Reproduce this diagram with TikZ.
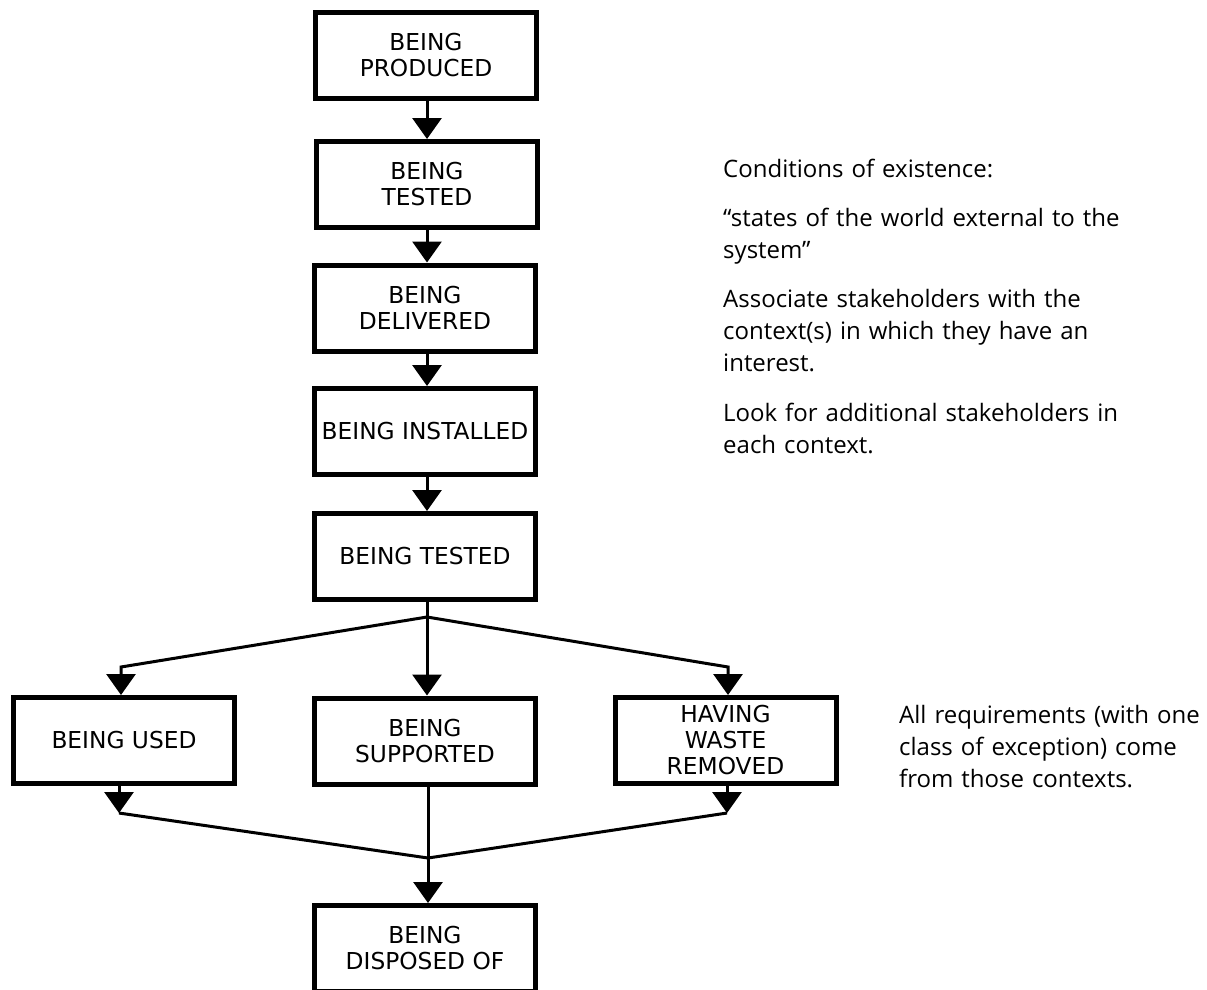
\documentclass[tikz,border=0pt]{standalone}
\usepackage{fontspec}
\setmainfont{Open Sans}
\newfontfamily\boxfont{DejaVu Sans}
\usetikzlibrary{arrows.meta}
\begin{document}
\begin{tikzpicture}[x=1pt,y=-1pt,
  stbox/.style={draw, line width=5pt, minimum width=221pt, minimum height=86pt,
    inner sep=0pt, align=center, font=\boxfont\fontsize{23.3}{26}\selectfont},
  conn/.style={line width=3pt},
  arr/.style={conn, -{Triangle[width=29pt,length=21pt]}},
  note/.style={anchor=base west, align=left, inner sep=0pt, text width=480pt,
    font=\fontsize{24}{32}\selectfont}]
\useasboundingbox (0,0) rectangle (1207,989);

% state boxes
\node[stbox] (p)  at (426,55.5)  {BEING\\PRODUCED};
\node[stbox] (t1) at (427,184.5) {BEING\\TESTED};
\node[stbox] (d)  at (425,308)   {BEING\\DELIVERED};
\node[stbox] (i)  at (425,431.5) {BEING INSTALLED};
\node[stbox] (t2) at (425,556.5) {BEING TESTED};
\node[stbox] (u)  at (124,740.5) {BEING USED};
\node[stbox] (s)  at (425,741)   {BEING\\SUPPORTED};
\node[stbox] (w)  at (725.5,740.5) {HAVING\\WASTE\\REMOVED};
\node[stbox] (x)  at (425,948.5) {BEING\\DISPOSED OF};

% helper coordinates
\coordinate (col) at (427,0);
\coordinate (j1) at (427,617);
\coordinate (lt) at (121,667);
\coordinate (rt) at (728,667);
\coordinate (lb) at (119,813);
\coordinate (rb) at (727,813);
\coordinate (j2) at (428,858);

% main column
\draw[arr] (p.south -| col) -- (t1.north -| col);
\draw[arr] (t1.south -| col) -- (d.north -| col);
\draw[arr] (d.south -| col) -- (i.north -| col);
\draw[arr] (i.south -| col) -- (t2.north -| col);

% branching
\draw[conn] (t2.south -| col) -- (j1);
\draw[arr] (j1) -- (lt) -- (lt |- u.north);
\draw[arr] (j1) -- (s.north -| col);
\draw[arr] (j1) -- (rt) -- (rt |- w.north);

% merging
\draw[arr] (u.south -| lb) -- (lb);
\draw[arr] (w.south -| rb) -- (rb);
\draw[conn] (lb) -- (j2) -- (rb);
\draw[conn] (s.south -| j2) -- (j2);
\draw[arr] (j2) -- (x.north -| j2);

% notes
\node[note] (n1) at (723,177) {Conditions of existence:};
\node[note] (n2) at (723,226) {“states of the world external to the\\system”};
\node[note] (n3) at (723,307) {Associate stakeholders with the\\context(s) in which they have an\\interest.};
\node[note] (n4) at (723,421) {Look for additional stakeholders in\\each context.};
\node[note] (n5) at (899,723) {All requirements (with one\\class of exception) come\\from those contexts.};
\end{tikzpicture}
\end{document}
